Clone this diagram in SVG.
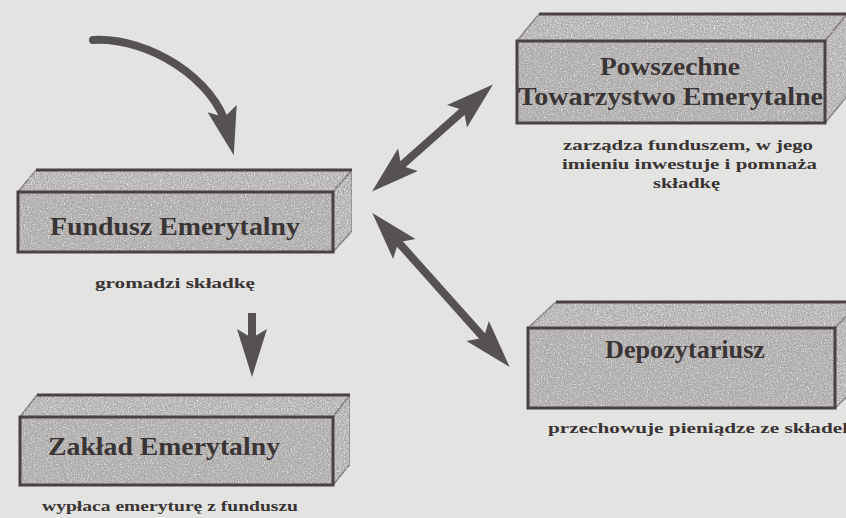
<svg xmlns="http://www.w3.org/2000/svg" width="846" height="518" viewBox="0 0 846 518">
<defs>
<filter id="grain" x="0" y="0" width="100%" height="100%">
<feTurbulence type="fractalNoise" baseFrequency="0.7" numOctaves="2" seed="4" result="n"/>
<feColorMatrix in="n" type="matrix" values="0 0 0 0 0.36  0 0 0 0 0.35  0 0 0 0 0.35  2.6 0 0 0 -1.0" result="spots"/>
<feColorMatrix in="n" type="matrix" values="0 0 0 0 0.93  0 0 0 0 0.93  0 0 0 0 0.92  -2.6 0 0 0 1.05" result="light"/>
<feComposite in="spots" in2="SourceGraphic" operator="in" result="s2"/>
<feComposite in="light" in2="SourceGraphic" operator="in" result="l2"/>
<feMerge><feMergeNode in="SourceGraphic"/><feMergeNode in="l2"/><feMergeNode in="s2"/></feMerge>
</filter>
<marker id="head" viewBox="0 -17 50 34" refX="20" refY="0" markerWidth="50" markerHeight="34" markerUnits="userSpaceOnUse" orient="auto-start-reverse">
<path d="M48,0 L0,-15 L9,0 L0,15 Z" fill="#575252"/>
</marker>
</defs>
<style>
.bg{fill:#e3e3e1}
.face{fill:#bdbcbb;filter:url(#grain)}
.side{fill:#c6c5c4;stroke:#7a7272;stroke-width:1.5;filter:url(#grain)}
.front{fill:none;stroke:#4a4242;stroke-width:3}
.back{stroke:#4a4242;stroke-width:3;fill:none}
.lbl{font-family:"Liberation Serif","Times New Roman",serif;font-weight:bold;font-size:25px;fill:#3a3434}
.cap{font-family:"Liberation Serif","Times New Roman",serif;font-weight:bold;font-size:15px;fill:#3a3434}
.arr{stroke:#575252;fill:none;stroke-width:8}
</style>
<rect class="bg" x="0" y="0" width="846" height="518"/>

<g id="connectors">
<path class="arr" d="M93,40 C150,37 215,80 227,128" stroke-width="10" stroke-linecap="round" marker-end="url(#head)"/>
<line class="arr" x1="393" y1="173" x2="472" y2="103" marker-start="url(#head)" marker-end="url(#head)"/>
<line class="arr" x1="391" y1="234" x2="491" y2="346" marker-start="url(#head)" marker-end="url(#head)"/>
<line class="arr" x1="252" y1="313" x2="252" y2="349" stroke-width="11" marker-end="url(#head)"/>
</g>

<g id="pte">
<polygon class="side" points="517,41 539,14 847,14 825,41"/>
<polygon class="side" points="825,41 847,14 847,96 825,123"/>
<rect class="face" x="517" y="41" width="308" height="82"/>
<line class="back" x1="539" y1="14" x2="847" y2="14"/>
<rect class="front" x="517" y="41" width="308" height="82"/>
<text class="lbl" x="600" y="75" textLength="140" lengthAdjust="spacingAndGlyphs">Powszechne</text>
<text class="lbl" x="518" y="105" textLength="305" lengthAdjust="spacingAndGlyphs">Towarzystwo Emerytalne</text>
<text class="cap" x="563" y="150" textLength="250" lengthAdjust="spacingAndGlyphs">zarządza funduszem, w jego</text>
<text class="cap" x="562" y="169" textLength="255" lengthAdjust="spacingAndGlyphs">imieniu inwestuje i pomnaża</text>
<text class="cap" x="653" y="188" textLength="67" lengthAdjust="spacingAndGlyphs">składkę</text>
</g>

<g id="fundusz">
<polygon class="side" points="18,192 36,170 352,170 333,192"/>
<polygon class="side" points="333,192 352,170 352,231 333,252"/>
<rect class="face" x="18" y="192" width="315" height="60"/>
<line class="back" x1="36" y1="170" x2="352" y2="170"/>
<rect class="front" x="18" y="192" width="315" height="60"/>
<text class="lbl" x="50" y="235" textLength="250" lengthAdjust="spacingAndGlyphs">Fundusz Emerytalny</text>
<text class="cap" x="95" y="288" textLength="160" lengthAdjust="spacingAndGlyphs">gromadzi składkę</text>
</g>

<g id="zaklad">
<polygon class="side" points="20,417 37,395 350,395 333,417"/>
<polygon class="side" points="333,417 350,395 350,464 333,485"/>
<rect class="face" x="20" y="417" width="313" height="68"/>
<line class="back" x1="37" y1="395" x2="350" y2="395"/>
<rect class="front" x="20" y="417" width="313" height="68"/>
<text class="lbl" x="48" y="455" textLength="232" lengthAdjust="spacingAndGlyphs">Zakład Emerytalny</text>
<text class="cap" x="42" y="511" textLength="256" lengthAdjust="spacingAndGlyphs">wypłaca emeryturę z funduszu</text>
</g>

<g id="depozytariusz">
<polygon class="side" points="528,328 556,302 860,302 835,328"/>
<polygon class="side" points="835,328 860,302 860,384 835,408"/>
<rect class="face" x="528" y="328" width="307" height="80"/>
<line class="back" x1="556" y1="302" x2="860" y2="302"/>
<rect class="front" x="528" y="328" width="307" height="80"/>
<text class="lbl" x="605" y="358" textLength="160" lengthAdjust="spacingAndGlyphs">Depozytariusz</text>
<text class="cap" x="548" y="433" textLength="306" lengthAdjust="spacingAndGlyphs">przechowuje pieniądze ze składek</text>
</g>
</svg>
